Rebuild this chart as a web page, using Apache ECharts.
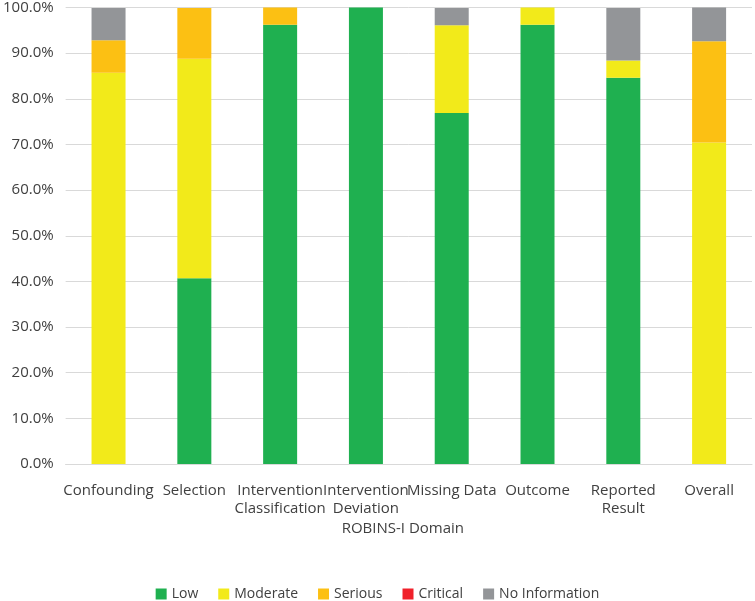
<!DOCTYPE html>
<html><head><meta charset="utf-8">
<script src="https://cdn.jsdelivr.net/npm/echarts@6/dist/echarts.min.js"></script>
<style>html,body{margin:0;padding:0;background:#fff}#c{width:755px;height:601px}</style>
</head><body><div id="c"></div>
<script>
const categories = ['Confounding','Selection','Intervention\nClassification','Intervention\nDeviation','Missing Data','Outcome','Reported\nResult','Overall'];
const low      = [0, 40.7, 96.2, 100, 76.9, 96.2, 84.6, 0];
const moderate = [85.7, 48.1, 0, 0, 19.2, 3.8, 3.8, 70.4];
const serious  = [7.1, 11.1, 3.8, 0, 0, 0, 0, 22.2];
const critical = [0, 0, 0, 0, 0, 0, 0, 0];
const noInfo   = [7.1, 0, 0, 0, 3.8, 0, 11.5, 7.4];
const seriesNames = ['Low','Moderate','Serious','Critical','No Information'];
const colors = ['#1fb050','#f2ea1a','#fcc013','#f0202a','#939598'];
const font = '"Open Sans",sans-serif';
const chart = echarts.init(document.getElementById('c'));
const datas = [low, moderate, serious, critical, noInfo];
chart.setOption({
  animation:false,
  textStyle:{fontFamily:font,color:'#404040'},
  grid:{left:64,right:3,top:6,bottom:137},
  legend:{top:582,left:'center',itemWidth:11,itemHeight:11,itemGap:20,icon:'rect',
    textStyle:{fontFamily:font,fontSize:14,color:'#404040'},data:seriesNames},
  xAxis:{type:'category',data:categories,name:'ROBINS-I Domain',nameLocation:'middle',nameGap:57,
    nameMoveOverlap:false,
    nameTextStyle:{fontFamily:font,fontSize:15,color:'#404040',padding:[0,12,0,0]},
    axisLine:{lineStyle:{color:'#d9d9d9'}},axisTick:{show:false},
    axisLabel:{interval:0,fontFamily:font,fontSize:15,color:'#404040',margin:18,lineHeight:18}},
  yAxis:{type:'value',min:0,max:100,interval:10,
    axisLabel:{formatter:v=>v.toFixed(1)+'%',fontFamily:font,fontSize:15,color:'#404040',margin:12},
    splitLine:{lineStyle:{color:'#d9d9d9'}},axisLine:{show:false},axisTick:{show:false}},
  series: seriesNames.map((n,i)=>({name:n,type:'bar',stack:'a',barWidth:34,
    itemStyle:{color:colors[i]},data:datas[i]}))
});
</script></body></html>
